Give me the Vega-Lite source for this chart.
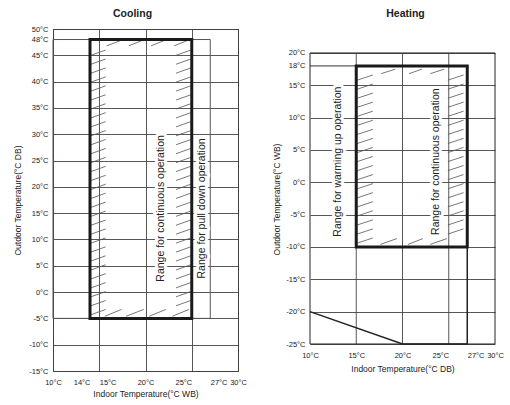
{
  "$schema": "https://vega.github.io/schema/vega-lite/v6.json",
  "padding": {"left": 13, "top": 8, "right": 0, "bottom": 0},
  "spacing": 25,
  "background": "white",
  "config": {
    "font": "Liberation Sans",
    "view": {"stroke": "#222", "strokeWidth": 1},
    "axis": {
      "ticks": false,
      "domain": false,
      "labelFont": "Liberation Sans",
      "titleFont": "Liberation Sans",
      "labelFontSize": 7.5,
      "labelColor": "#222",
      "titleFontSize": 8.5,
      "titleFontWeight": "normal",
      "titleColor": "#222",
      "gridColor": "#444",
      "gridWidth": 0.9,
      "labelFlush": false,
      "labelOverlap": false
    },
    "title": {"font": "Liberation Sans", "fontSize": 10.5, "fontWeight": "bold", "color": "#222"}
  },
  "datasets": {
    "coolHatch": [
      {"x": 14.1, "y": -4.3, "x2": 15.7, "y2": -3.3},
      {"x": 14.1, "y": -2.6, "x2": 15.7, "y2": -1.6},
      {"x": 14.1, "y": -0.9, "x2": 15.7, "y2": 0.1},
      {"x": 14.1, "y": 0.8, "x2": 15.7, "y2": 1.8},
      {"x": 14.1, "y": 2.5, "x2": 15.7, "y2": 3.5},
      {"x": 14.1, "y": 4.2, "x2": 15.7, "y2": 5.2},
      {"x": 14.1, "y": 5.9, "x2": 15.7, "y2": 6.9},
      {"x": 14.1, "y": 7.6, "x2": 15.7, "y2": 8.6},
      {"x": 14.1, "y": 9.3, "x2": 15.7, "y2": 10.3},
      {"x": 14.1, "y": 11.0, "x2": 15.7, "y2": 12.0},
      {"x": 14.1, "y": 12.7, "x2": 15.7, "y2": 13.7},
      {"x": 14.1, "y": 14.4, "x2": 15.7, "y2": 15.4},
      {"x": 14.1, "y": 16.1, "x2": 15.7, "y2": 17.1},
      {"x": 14.1, "y": 17.8, "x2": 15.7, "y2": 18.8},
      {"x": 14.1, "y": 19.5, "x2": 15.7, "y2": 20.5},
      {"x": 14.1, "y": 21.2, "x2": 15.7, "y2": 22.2},
      {"x": 14.1, "y": 22.9, "x2": 15.7, "y2": 23.9},
      {"x": 14.1, "y": 24.6, "x2": 15.7, "y2": 25.6},
      {"x": 14.1, "y": 26.3, "x2": 15.7, "y2": 27.3},
      {"x": 14.1, "y": 28.0, "x2": 15.7, "y2": 29.0},
      {"x": 14.1, "y": 29.7, "x2": 15.7, "y2": 30.7},
      {"x": 14.1, "y": 31.4, "x2": 15.7, "y2": 32.4},
      {"x": 14.1, "y": 33.1, "x2": 15.7, "y2": 34.1},
      {"x": 14.1, "y": 34.8, "x2": 15.7, "y2": 35.8},
      {"x": 14.1, "y": 36.5, "x2": 15.7, "y2": 37.5},
      {"x": 14.1, "y": 38.2, "x2": 15.7, "y2": 39.2},
      {"x": 14.1, "y": 39.9, "x2": 15.7, "y2": 40.9},
      {"x": 14.1, "y": 41.6, "x2": 15.7, "y2": 42.6},
      {"x": 14.1, "y": 43.3, "x2": 15.7, "y2": 44.3},
      {"x": 14.1, "y": 45.0, "x2": 15.7, "y2": 46.0},
      {"x": 23.3, "y": -2.6, "x2": 24.9, "y2": -1.6},
      {"x": 23.3, "y": -0.9, "x2": 24.9, "y2": 0.1},
      {"x": 23.3, "y": 0.8, "x2": 24.9, "y2": 1.8},
      {"x": 23.3, "y": 2.5, "x2": 24.9, "y2": 3.5},
      {"x": 23.3, "y": 4.2, "x2": 24.9, "y2": 5.2},
      {"x": 23.3, "y": 5.9, "x2": 24.9, "y2": 6.9},
      {"x": 23.3, "y": 7.6, "x2": 24.9, "y2": 8.6},
      {"x": 23.3, "y": 9.3, "x2": 24.9, "y2": 10.3},
      {"x": 23.3, "y": 11.0, "x2": 24.9, "y2": 12.0},
      {"x": 23.3, "y": 12.7, "x2": 24.9, "y2": 13.7},
      {"x": 23.3, "y": 14.4, "x2": 24.9, "y2": 15.4},
      {"x": 23.3, "y": 16.1, "x2": 24.9, "y2": 17.1},
      {"x": 23.3, "y": 17.8, "x2": 24.9, "y2": 18.8},
      {"x": 23.3, "y": 19.5, "x2": 24.9, "y2": 20.5},
      {"x": 23.3, "y": 21.2, "x2": 24.9, "y2": 22.2},
      {"x": 23.3, "y": 22.9, "x2": 24.9, "y2": 23.9},
      {"x": 23.3, "y": 24.6, "x2": 24.9, "y2": 25.6},
      {"x": 23.3, "y": 26.3, "x2": 24.9, "y2": 27.3},
      {"x": 23.3, "y": 28.0, "x2": 24.9, "y2": 29.0},
      {"x": 23.3, "y": 29.7, "x2": 24.9, "y2": 30.7},
      {"x": 23.3, "y": 31.4, "x2": 24.9, "y2": 32.4},
      {"x": 23.3, "y": 33.1, "x2": 24.9, "y2": 34.1},
      {"x": 23.3, "y": 34.8, "x2": 24.9, "y2": 35.8},
      {"x": 23.3, "y": 36.5, "x2": 24.9, "y2": 37.5},
      {"x": 23.3, "y": 38.2, "x2": 24.9, "y2": 39.2},
      {"x": 23.3, "y": 39.9, "x2": 24.9, "y2": 40.9},
      {"x": 23.3, "y": 41.6, "x2": 24.9, "y2": 42.6},
      {"x": 23.3, "y": 43.3, "x2": 24.9, "y2": 44.3},
      {"x": 23.3, "y": 45.0, "x2": 24.9, "y2": 46.0},
      {"x": 15.8, "y": 46.8, "x2": 17.3, "y2": 47.8},
      {"x": 18.2, "y": 46.8, "x2": 19.6, "y2": 47.8},
      {"x": 20.6, "y": 46.8, "x2": 22.0, "y2": 47.8},
      {"x": 23.1, "y": 46.8, "x2": 24.5, "y2": 47.8},
      {"x": 15.6, "y": -4.6, "x2": 17.4, "y2": -3.3},
      {"x": 17.9, "y": -4.6, "x2": 19.8, "y2": -3.3},
      {"x": 20.4, "y": -4.6, "x2": 22.2, "y2": -3.3},
      {"x": 22.9, "y": -4.6, "x2": 24.7, "y2": -3.3}
    ],
    "coolPull": [{"x": 10, "x2": 27, "y": -5, "y2": 48}],
    "coolBox": [{"x": 14, "x2": 25, "y": -5, "y2": 48}],
    "coolText": [
      {"x": 21.7, "y": 15.9, "label": "Range for continuous operation"},
      {"x": 26.1, "y": 15.9, "label": "Range for pull down operation"}
    ],
    "heatHatch": [
      {"x": 15.1, "y": -9.4, "x2": 16.8, "y2": -8.6},
      {"x": 15.1, "y": -8.0, "x2": 16.8, "y2": -7.2},
      {"x": 15.1, "y": -6.6, "x2": 16.8, "y2": -5.8},
      {"x": 15.1, "y": -5.2, "x2": 16.8, "y2": -4.4},
      {"x": 15.1, "y": -3.8, "x2": 16.8, "y2": -3.0},
      {"x": 15.1, "y": -2.4, "x2": 16.8, "y2": -1.6},
      {"x": 15.1, "y": -1.0, "x2": 16.8, "y2": -0.2},
      {"x": 15.1, "y": 0.4, "x2": 16.8, "y2": 1.2},
      {"x": 15.1, "y": 1.8, "x2": 16.8, "y2": 2.6},
      {"x": 15.1, "y": 3.2, "x2": 16.8, "y2": 4.0},
      {"x": 15.1, "y": 4.6, "x2": 16.8, "y2": 5.4},
      {"x": 15.1, "y": 6.0, "x2": 16.8, "y2": 6.8},
      {"x": 15.1, "y": 7.4, "x2": 16.8, "y2": 8.2},
      {"x": 15.1, "y": 8.8, "x2": 16.8, "y2": 9.6},
      {"x": 15.1, "y": 10.2, "x2": 16.8, "y2": 11.0},
      {"x": 15.1, "y": 11.6, "x2": 16.8, "y2": 12.4},
      {"x": 15.1, "y": 13.0, "x2": 16.8, "y2": 13.8},
      {"x": 15.1, "y": 14.4, "x2": 16.8, "y2": 15.2},
      {"x": 15.1, "y": 15.8, "x2": 16.8, "y2": 16.6},
      {"x": 24.9, "y": -8.0, "x2": 26.6, "y2": -7.2},
      {"x": 24.9, "y": -6.6, "x2": 26.6, "y2": -5.8},
      {"x": 24.9, "y": -5.2, "x2": 26.6, "y2": -4.4},
      {"x": 24.9, "y": -3.8, "x2": 26.6, "y2": -3.0},
      {"x": 24.9, "y": -2.4, "x2": 26.6, "y2": -1.6},
      {"x": 24.9, "y": -1.0, "x2": 26.6, "y2": -0.2},
      {"x": 24.9, "y": 0.4, "x2": 26.6, "y2": 1.2},
      {"x": 24.9, "y": 1.8, "x2": 26.6, "y2": 2.6},
      {"x": 24.9, "y": 3.2, "x2": 26.6, "y2": 4.0},
      {"x": 24.9, "y": 4.6, "x2": 26.6, "y2": 5.4},
      {"x": 24.9, "y": 6.0, "x2": 26.6, "y2": 6.8},
      {"x": 24.9, "y": 7.4, "x2": 26.6, "y2": 8.2},
      {"x": 24.9, "y": 8.8, "x2": 26.6, "y2": 9.6},
      {"x": 24.9, "y": 10.2, "x2": 26.6, "y2": 11.0},
      {"x": 24.9, "y": 11.6, "x2": 26.6, "y2": 12.4},
      {"x": 24.9, "y": 13.0, "x2": 26.6, "y2": 13.8},
      {"x": 24.9, "y": 14.4, "x2": 26.6, "y2": 15.2},
      {"x": 24.9, "y": 15.8, "x2": 26.6, "y2": 16.6},
      {"x": 17.7, "y": 16.8, "x2": 19.2, "y2": 17.5},
      {"x": 20.7, "y": 16.8, "x2": 22.1, "y2": 17.5},
      {"x": 23.0, "y": 16.8, "x2": 24.5, "y2": 17.5},
      {"x": 17.6, "y": -9.6, "x2": 19.4, "y2": -8.7},
      {"x": 20.6, "y": -9.6, "x2": 22.2, "y2": -8.7},
      {"x": 23.0, "y": -9.6, "x2": 24.8, "y2": -8.7}
    ],
    "heatGrid": [
      {"x": 15, "y": -25, "y2": 20},
      {"x": 20, "y": -25, "y2": 20},
      {"x": 25, "y": -25, "y2": 20}
    ],
    "heatFrame": [{"x": 10, "x2": 30, "y": -25, "y2": 20}],
    "heatBox": [{"x": 15, "x2": 27, "y": -10, "y2": 18}],
    "heatTop": [{"x": 10, "x2": 15, "y": 18, "y2": 18}],
    "heatLow": [
      {"x": 10, "y": -20, "order": 1},
      {"x": 20, "y": -25, "order": 2},
      {"x": 27, "y": -25, "order": 3},
      {"x": 27, "y": -10, "order": 4}
    ],
    "heatText": [
      {"x": 13.0, "y": 3.2, "label": "Range for warming up operation"},
      {"x": 23.6, "y": 3.2, "label": "Range for continuous operation"}
    ]
  },
  "hconcat": [
    {
      "width": 185,
      "height": 342,
      "title": {"text": "Cooling", "offset": 6, "dx": -13},
      "encoding": {
        "x": {
          "field": "x", "type": "quantitative",
          "scale": {"domain": [10, 30], "nice": false, "zero": false},
          "axis": {
            "values": [10, 14, 15, 20, 25, 27, 30],
            "labelExpr": "datum.value + '°C'",
            "title": "Indoor Temperature(°C WB)",
            "labelPadding": 7,
            "titlePadding": 4,
            "gridOpacity": {"condition": {"test": "datum.value == 14 || datum.value == 27", "value": 0}, "value": 1},
            "labelAlign": {"expr": "(datum.value == 14 || datum.value == 25) ? 'right' : ((datum.value == 15 || datum.value == 27) ? 'left' : 'center')"}
          }
        },
        "y": {
          "field": "y", "type": "quantitative",
          "scale": {"domain": [-15, 50], "nice": false, "zero": false},
          "axis": {
            "values": [-15, -10, -5, 0, 5, 10, 15, 20, 25, 30, 35, 40, 45, 48, 50],
            "labelExpr": "datum.value + '°C'",
            "title": "Outdoor Temperature(°C DB)",
            "labelPadding": 5,
            "titlePadding": 6,
            "gridOpacity": {"condition": {"test": "datum.value == 48", "value": 0}, "value": 1}
          }
        }
      },
      "layer": [
        {"data": {"name": "coolHatch"}, "mark": {"type": "rule", "color": "#555", "strokeWidth": 0.8}, "encoding": {"x2": {"field": "x2"}, "y2": {"field": "y2"}}},
        {"data": {"name": "coolPull"}, "mark": {"type": "rect", "fill": "white", "fillOpacity": 0, "stroke": "#555", "strokeWidth": 1}, "encoding": {"x2": {"field": "x2"}, "y2": {"field": "y2"}}},
        {"data": {"name": "coolBox"}, "mark": {"type": "rect", "fill": "white", "fillOpacity": 0, "stroke": "#1a1a1a", "strokeWidth": 3}, "encoding": {"x2": {"field": "x2"}, "y2": {"field": "y2"}}},
        {"data": {"name": "coolText"}, "mark": {"type": "text", "angle": 270, "fontSize": 10.5, "fill": "white", "stroke": "white", "strokeWidth": 6, "strokeJoin": "round"}, "encoding": {"text": {"field": "label"}}},
        {"data": {"name": "coolText"}, "mark": {"type": "text", "angle": 270, "fontSize": 10.5, "color": "#222"}, "encoding": {"text": {"field": "label"}}}
      ]
    },
    {
      "width": 185,
      "height": 315,
      "view": {"stroke": null},
      "title": {"text": "Heating", "offset": 10, "dx": 3},
      "encoding": {
        "x": {
          "field": "x", "type": "quantitative",
          "scale": {"domain": [10, 30], "nice": false, "zero": false},
          "axis": {
            "values": [10, 15, 20, 25, 27, 30],
            "labelExpr": "datum.value + '°C'",
            "title": "Indoor Temperature(°C DB)",
            "labelPadding": 7,
            "titlePadding": 6,
            "grid": false,
            "labelAlign": {"expr": "datum.value == 25 ? 'right' : (datum.value == 27 ? 'left' : 'center')"}
          }
        },
        "y": {
          "field": "y", "type": "quantitative",
          "scale": {"domain": [-25, 23.71], "nice": false, "zero": false},
          "axis": {
            "values": [-25, -20, -15, -10, -5, 0, 5, 10, 15, 18, 20],
            "labelExpr": "datum.value + '°C'",
            "title": "Outdoor Temperature(°C WB)",
            "titleY": 170,
            "labelPadding": 5,
            "titlePadding": 4,
            "gridOpacity": {"condition": {"test": "datum.value == 18", "value": 0}, "value": 1}
          }
        }
      },
      "layer": [
        {"data": {"name": "heatGrid"}, "mark": {"type": "rule", "color": "#444", "strokeWidth": 0.9}, "encoding": {"y2": {"field": "y2"}}},
        {"data": {"name": "heatFrame"}, "mark": {"type": "rect", "fill": "white", "fillOpacity": 0, "stroke": "#222", "strokeWidth": 1}, "encoding": {"x2": {"field": "x2"}, "y2": {"field": "y2"}}},
        {"data": {"name": "heatHatch"}, "mark": {"type": "rule", "color": "#555", "strokeWidth": 0.8}, "encoding": {"x2": {"field": "x2"}, "y2": {"field": "y2"}}},
        {"data": {"name": "heatTop"}, "mark": {"type": "rule", "color": "#333", "strokeWidth": 1}, "encoding": {"x2": {"field": "x2"}, "y2": {"field": "y2"}}},
        {"data": {"name": "heatLow"}, "mark": {"type": "line", "color": "#222", "strokeWidth": 1.5}, "encoding": {"order": {"field": "order"}}},
        {"data": {"name": "heatBox"}, "mark": {"type": "rect", "fill": "white", "fillOpacity": 0, "stroke": "#1a1a1a", "strokeWidth": 3}, "encoding": {"x2": {"field": "x2"}, "y2": {"field": "y2"}}},
        {"data": {"name": "heatText"}, "mark": {"type": "text", "angle": 270, "fontSize": 10.5, "fill": "white", "stroke": "white", "strokeWidth": 6, "strokeJoin": "round"}, "encoding": {"text": {"field": "label"}}},
        {"data": {"name": "heatText"}, "mark": {"type": "text", "angle": 270, "fontSize": 10.5, "color": "#222"}, "encoding": {"text": {"field": "label"}}}
      ]
    }
  ]
}
